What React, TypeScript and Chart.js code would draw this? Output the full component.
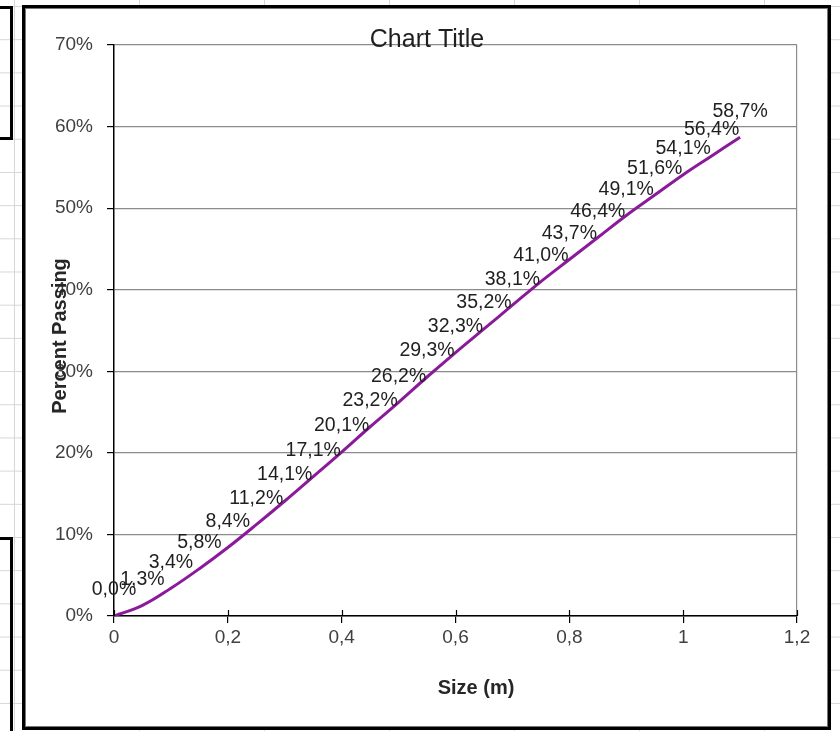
import React, { useEffect, useRef } from "react";
import { Chart, registerables } from "chart.js";

Chart.register(...registerables);

// ---- Data ----
const sizes = [0, 0.05, 0.1, 0.15, 0.2, 0.25, 0.3, 0.35, 0.4, 0.45, 0.5, 0.55, 0.6, 0.65, 0.7, 0.75, 0.8, 0.85, 0.9, 0.95, 1.0, 1.05, 1.1];
const percentPassing = [0.0, 1.3, 3.4, 5.8, 8.4, 11.2, 14.1, 17.1, 20.1, 23.2, 26.2, 29.3, 32.3, 35.2, 38.1, 41.0, 43.7, 46.4, 49.1, 51.6, 54.1, 56.4, 58.7];
const xTickValues = [0, 0.2, 0.4, 0.6, 0.8, 1.0, 1.2];
const yTickValues = [0, 10, 20, 30, 40, 50, 60, 70];
const chartTitle = "Chart Title";
const xAxisTitle = "Size (m)";
const yAxisTitle = "Percent Passing";

const FONT = '"Liberation Sans", Arial, sans-serif';
const GRID_GRAY = "#8c8c8c";

const fmtNum = (v: number) => String(Number(v.toFixed(2))).replace(".", ",");
const fmtPct = (v: number) => v.toFixed(1).replace(".", ",") + "%";

const textPlugin = {
  id: "excelTexts",
  afterDraw(chart: any) {
    const ctx = chart.ctx as CanvasRenderingContext2D;
    const ca = chart.chartArea;
    const xs = chart.scales.x;
    ctx.save();
    // inner half of x-axis ticks (Excel "cross" ticks)
    ctx.strokeStyle = "#000";
    ctx.lineWidth = 1.2;
    xTickValues.forEach((v) => {
      const px = Math.round(xs.getPixelForValue(v)) + 0.5;
      ctx.beginPath();
      ctx.moveTo(px, ca.bottom - 6);
      ctx.lineTo(px, ca.bottom);
      ctx.stroke();
    });
    // data labels
    const meta = chart.getDatasetMeta(0);
    ctx.font = `19.5px ${FONT}`;
    ctx.fillStyle = "#1f1f1f";
    ctx.textAlign = "center";
    ctx.textBaseline = "middle";
    meta.data.forEach((el: any, i: number) => {
      ctx.fillText(fmtPct(percentPassing[i]), el.x, el.y - 26);
    });
    // chart title
    ctx.font = `25px ${FONT}`;
    ctx.fillStyle = "#1f1f1f";
    ctx.fillText(chartTitle, 427, 40);
    // axis titles
    ctx.font = `bold 20px ${FONT}`;
    ctx.fillStyle = "#262626";
    ctx.fillText(xAxisTitle, 476, 688);
    ctx.translate(60, 336);
    ctx.rotate(-Math.PI / 2);
    ctx.fillText(yAxisTitle, 0, 0);
    ctx.restore();
  },
};

export default function App() {
  const canvasRef = useRef<HTMLCanvasElement | null>(null);

  useEffect(() => {
    if (!canvasRef.current) return;
    const chart = new Chart(canvasRef.current, {
      type: "line",
      data: {
        datasets: [
          {
            data: sizes.map((x, i) => ({ x, y: percentPassing[i] })),
            borderColor: "#8b1a9b",
            borderWidth: 3,
            pointRadius: 0,
            tension: 0.4,
            fill: false,
          },
        ],
      },
      options: {
        animation: false,
        responsive: false,
        layout: { padding: { top: 45, right: 43, left: 0, bottom: 0 } },
        plugins: {
          legend: { display: false },
          tooltip: { enabled: false },
          title: { display: false },
        },
        scales: {
          x: {
            type: "linear",
            min: 0,
            max: 1.2,
            afterBuildTicks: (s: any) => {
              s.ticks = xTickValues.map((v) => ({ value: v }));
            },
            afterFit: (s: any) => {
              s.height = 115;
            },
            grid: {
              color: (c: any) => (c.tick && Math.abs(c.tick.value - 1.2) < 1e-9 ? GRID_GRAY : "rgba(0,0,0,0)"),
              tickColor: "#000",
              tickLength: 7,
              lineWidth: 1.2,
            },
            border: { color: "#000", width: 1.5 },
            ticks: {
              callback: (v: any) => fmtNum(Number(v)),
              font: { family: FONT, size: 19 },
              color: "#404040",
              padding: 3,
              maxRotation: 0,
              autoSkip: false,
            },
          },
          y: {
            type: "linear",
            min: 0,
            max: 70,
            afterBuildTicks: (s: any) => {
              s.ticks = yTickValues.map((v) => ({ value: v }));
            },
            afterFit: (s: any) => {
              s.width = 114;
            },
            grid: {
              color: GRID_GRAY,
              tickColor: "#000",
              tickLength: 7,
              lineWidth: 1.2,
            },
            border: { color: "#000", width: 1.5 },
            ticks: {
              callback: (v: any) => `${v}%`,
              font: { family: FONT, size: 19 },
              color: "#404040",
              padding: 14,
              autoSkip: false,
            },
          },
        },
      },
      plugins: [textPlugin],
    } as any);
    return () => chart.destroy();
  }, []);

  return (
    <div
      style={{
        position: "fixed",
        left: 0,
        top: 0,
        width: 840,
        height: 731,
        overflow: "hidden",
        background: "#fff",
        backgroundImage:
          "linear-gradient(to right, #d6d6d6 1px, transparent 1px), linear-gradient(to bottom, #d6d6d6 1px, transparent 1px)",
        backgroundSize: "125px 33.2px",
        backgroundPosition: "14px 6px",
      }}
    >
      <div style={{ position: "absolute", left: -20, top: 6, width: 33, height: 134, border: "3px solid #000", boxSizing: "border-box" }} />
      <div style={{ position: "absolute", left: -20, top: 537, width: 33, height: 300, border: "3px solid #000", boxSizing: "border-box" }} />
      <div
        style={{
          position: "absolute",
          left: 22,
          top: 5,
          width: 809,
          height: 725,
          border: "3px solid #000",
          boxShadow: "inset 0 0 0 1px #777",
          boxSizing: "border-box",
          background: "#fff",
        }}
      />
      <canvas ref={canvasRef} width={840} height={731} style={{ position: "absolute", left: 0, top: 0 }} />
    </div>
  );
}
